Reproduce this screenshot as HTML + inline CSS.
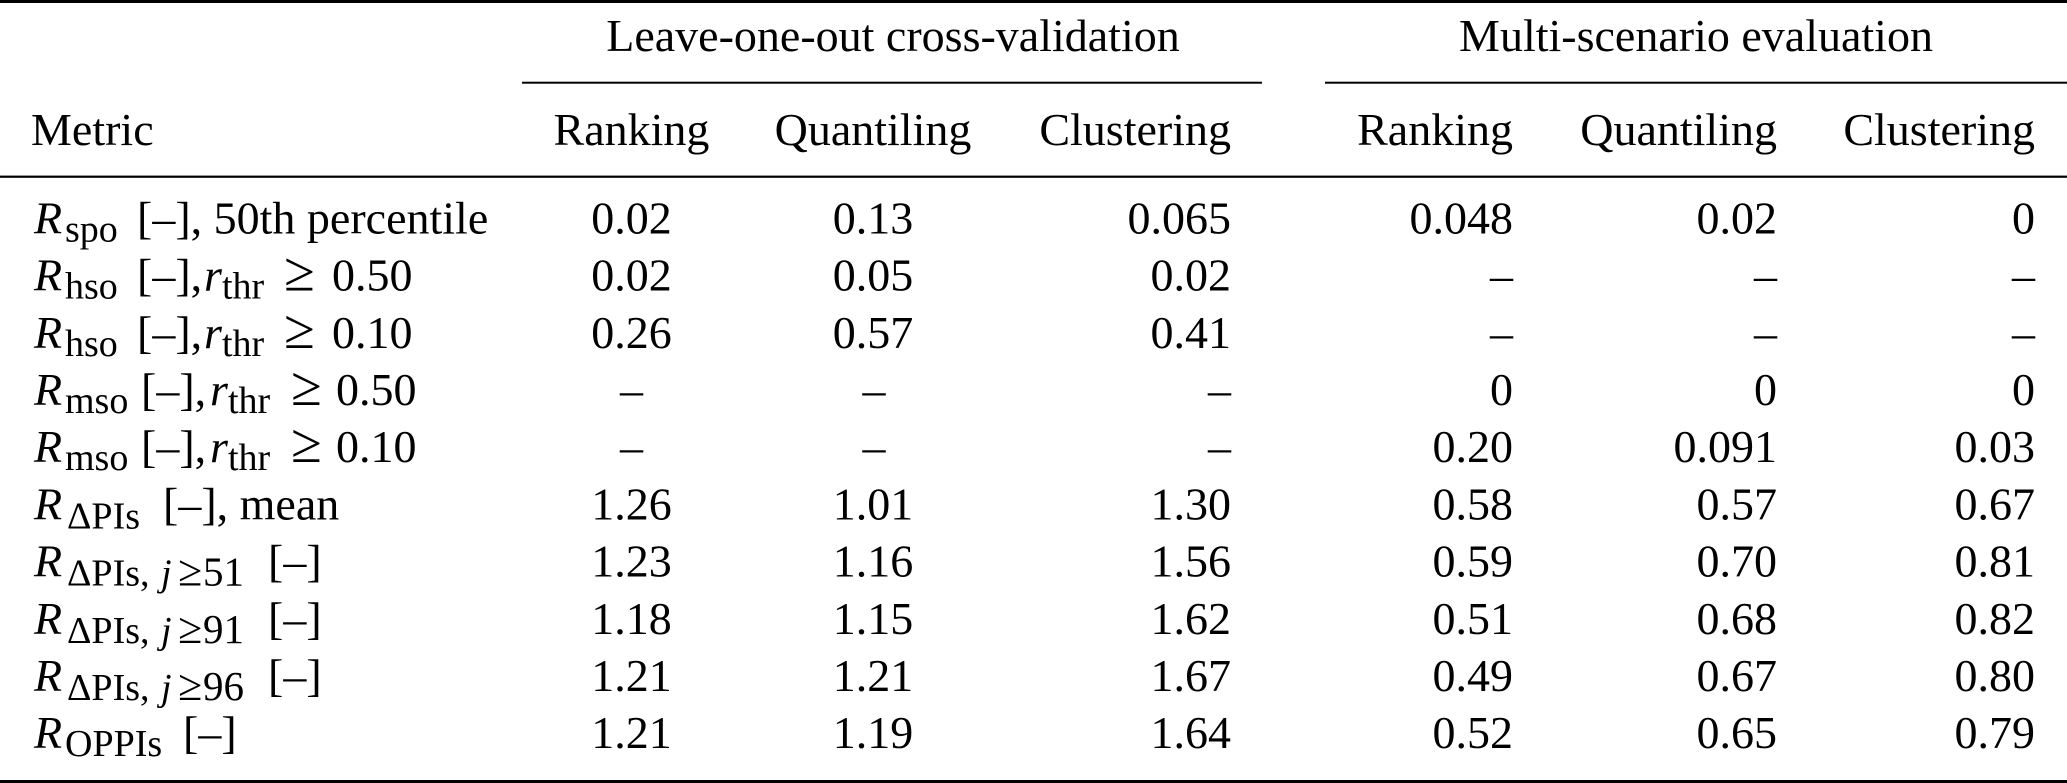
<!DOCTYPE html>
<html>
<head>
<meta charset="utf-8">
<style>
html,body{margin:0;padding:0;background:#fff;}
body{width:2067px;height:783px;overflow:hidden;}
svg{display:block;}
text{font-family:"Liberation Serif","DejaVu Serif",serif;font-size:46px;fill:#000;}
.i{font-style:italic;}
.s{font-size:38px;}
.ge{font-size:56px;}
.sge{font-size:44px;}
</style>
</head>
<body>
<svg width="2067" height="783" viewBox="0 0 2067 783" xmlns="http://www.w3.org/2000/svg">
<!-- rules -->
<rect x="0" y="0" width="2067" height="3" fill="#000"/>
<rect x="522" y="81.7" width="740" height="2" fill="#000"/>
<rect x="1325" y="81.7" width="742" height="2" fill="#000"/>
<rect x="0" y="175.6" width="2067" height="2.2" fill="#000"/>
<rect x="0" y="780" width="2067" height="3" fill="#000"/>

<!-- group headers -->
<text x="893" y="51" text-anchor="middle">Leave-one-out cross-validation</text>
<text x="1696" y="51" text-anchor="middle">Multi-scenario evaluation</text>

<!-- column headers -->
<text x="31" y="145">Metric</text>
<text x="631.5" y="145" text-anchor="middle">Ranking</text>
<text x="873" y="145" text-anchor="middle">Quantiling</text>
<text x="1231" y="145" text-anchor="end">Clustering</text>
<text x="1513" y="145" text-anchor="end">Ranking</text>
<text x="1777" y="145" text-anchor="end">Quantiling</text>
<text x="2035" y="145" text-anchor="end">Clustering</text>

<!-- row labels -->
<text y="233.4"><tspan x="34" class="i">R</tspan><tspan x="65" dy="8" class="s">spo</tspan><tspan x="137" dy="-8">[–], 50th percentile</tspan></text>
<text y="290.6"><tspan x="34" class="i">R</tspan><tspan x="65" dy="8" class="s">hso</tspan><tspan x="137" dy="-8">[–],</tspan><tspan x="204" class="i">r</tspan><tspan x="222" dy="8" class="s">thr</tspan><tspan x="284" dy="-8" class="ge">≥</tspan><tspan x="332">0.50</tspan></text>
<text y="347.8"><tspan x="34" class="i">R</tspan><tspan x="65" dy="8" class="s">hso</tspan><tspan x="137" dy="-8">[–],</tspan><tspan x="204" class="i">r</tspan><tspan x="222" dy="8" class="s">thr</tspan><tspan x="284" dy="-8" class="ge">≥</tspan><tspan x="332">0.10</tspan></text>
<text y="405"><tspan x="34" class="i">R</tspan><tspan x="65" dy="8" class="s">mso</tspan><tspan x="141" dy="-8">[–],</tspan><tspan x="210" class="i">r</tspan><tspan x="228" dy="8" class="s">thr</tspan><tspan x="291" dy="-8" class="ge">≥</tspan><tspan x="336">0.50</tspan></text>
<text y="462.2"><tspan x="34" class="i">R</tspan><tspan x="65" dy="8" class="s">mso</tspan><tspan x="141" dy="-8">[–],</tspan><tspan x="210" class="i">r</tspan><tspan x="228" dy="8" class="s">thr</tspan><tspan x="291" dy="-8" class="ge">≥</tspan><tspan x="336">0.10</tspan></text>
<text y="519.4"><tspan x="34" class="i">R</tspan><tspan x="67" dy="9" class="s">ΔPIs</tspan><tspan x="163" dy="-9">[–], mean</tspan></text>
<text y="576.6"><tspan x="34" class="i">R</tspan><tspan x="67" dy="9" class="s">ΔPIs,</tspan><tspan x="161" class="s i">j</tspan><tspan x="178" class="sge">≥</tspan><tspan x="203" style="font-size:41px">51</tspan><tspan x="268" dy="-9">[–]</tspan></text>
<text y="633.8"><tspan x="34" class="i">R</tspan><tspan x="67" dy="9" class="s">ΔPIs,</tspan><tspan x="161" class="s i">j</tspan><tspan x="178" class="sge">≥</tspan><tspan x="203" style="font-size:41px">91</tspan><tspan x="268" dy="-9">[–]</tspan></text>
<text y="691"><tspan x="34" class="i">R</tspan><tspan x="67" dy="9" class="s">ΔPIs,</tspan><tspan x="161" class="s i">j</tspan><tspan x="178" class="sge">≥</tspan><tspan x="203" style="font-size:41px">96</tspan><tspan x="268" dy="-9">[–]</tspan></text>
<text y="748.2"><tspan x="34" class="i">R</tspan><tspan x="65" dy="8" class="s">OPPIs</tspan><tspan x="183" dy="-8">[–]</tspan></text>

<!-- LOO Ranking (centered) -->
<g text-anchor="middle">
<text x="631.5" y="233.4">0.02</text>
<text x="631.5" y="290.6">0.02</text>
<text x="631.5" y="347.8">0.26</text>
<text x="631.5" y="405">–</text>
<text x="631.5" y="462.2">–</text>
<text x="631.5" y="519.4">1.26</text>
<text x="631.5" y="576.6">1.23</text>
<text x="631.5" y="633.8">1.18</text>
<text x="631.5" y="691">1.21</text>
<text x="631.5" y="748.2">1.21</text>
</g>
<!-- LOO Quantiling (centered) -->
<g text-anchor="middle">
<text x="873" y="233.4">0.13</text>
<text x="873" y="290.6">0.05</text>
<text x="873" y="347.8">0.57</text>
<text x="874" y="405">–</text>
<text x="874" y="462.2">–</text>
<text x="873" y="519.4">1.01</text>
<text x="873" y="576.6">1.16</text>
<text x="873" y="633.8">1.15</text>
<text x="873" y="691">1.21</text>
<text x="873" y="748.2">1.19</text>
</g>
<!-- LOO Clustering (right) -->
<g text-anchor="end">
<text x="1231" y="233.4">0.065</text>
<text x="1231" y="290.6">0.02</text>
<text x="1231" y="347.8">0.41</text>
<text x="1231" y="405">–</text>
<text x="1231" y="462.2">–</text>
<text x="1231" y="519.4">1.30</text>
<text x="1231" y="576.6">1.56</text>
<text x="1231" y="633.8">1.62</text>
<text x="1231" y="691">1.67</text>
<text x="1231" y="748.2">1.64</text>
</g>
<!-- Multi Ranking (right) -->
<g text-anchor="end">
<text x="1513" y="233.4">0.048</text>
<text x="1513" y="290.6">–</text>
<text x="1513" y="347.8">–</text>
<text x="1513" y="405">0</text>
<text x="1513" y="462.2">0.20</text>
<text x="1513" y="519.4">0.58</text>
<text x="1513" y="576.6">0.59</text>
<text x="1513" y="633.8">0.51</text>
<text x="1513" y="691">0.49</text>
<text x="1513" y="748.2">0.52</text>
</g>
<!-- Multi Quantiling (right) -->
<g text-anchor="end">
<text x="1777" y="233.4">0.02</text>
<text x="1777" y="290.6">–</text>
<text x="1777" y="347.8">–</text>
<text x="1777" y="405">0</text>
<text x="1777" y="462.2">0.091</text>
<text x="1777" y="519.4">0.57</text>
<text x="1777" y="576.6">0.70</text>
<text x="1777" y="633.8">0.68</text>
<text x="1777" y="691">0.67</text>
<text x="1777" y="748.2">0.65</text>
</g>
<!-- Multi Clustering (right) -->
<g text-anchor="end">
<text x="2035" y="233.4">0</text>
<text x="2035" y="290.6">–</text>
<text x="2035" y="347.8">–</text>
<text x="2035" y="405">0</text>
<text x="2035" y="462.2">0.03</text>
<text x="2035" y="519.4">0.67</text>
<text x="2035" y="576.6">0.81</text>
<text x="2035" y="633.8">0.82</text>
<text x="2035" y="691">0.80</text>
<text x="2035" y="748.2">0.79</text>
</g>
</svg>
</body>
</html>
